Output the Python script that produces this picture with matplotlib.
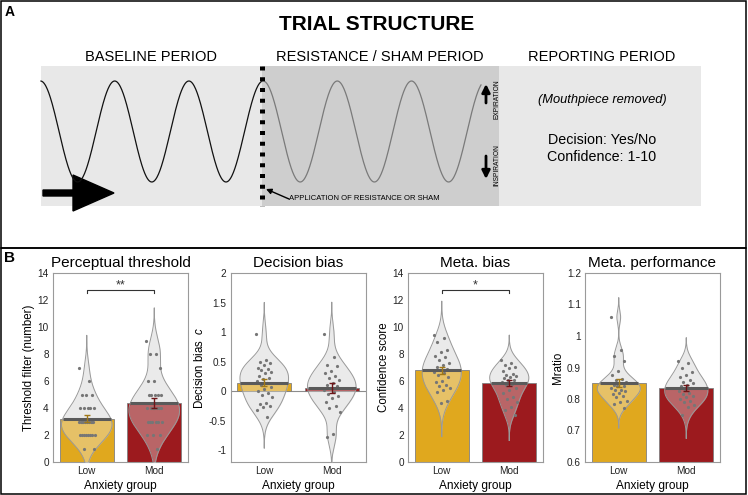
import numpy as np
import matplotlib.pyplot as plt
from matplotlib.patches import Rectangle, FancyArrow

plt.rcParams['font.family'] = ['Liberation Sans', 'DejaVu Sans']
plt.rcParams['mathtext.fontset'] = 'custom'
plt.rcParams['mathtext.it'] = 'Liberation Sans:italic'
plt.rcParams['mathtext.rm'] = 'Liberation Sans'

# ---- data ----
groups = ["Low", "Mod"]

threshold_low = [7, 6, 5, 5, 5, 4, 4, 4, 4, 4, 3, 3, 3, 3, 3, 3, 3, 3, 3, 3,
                 2, 2, 2, 2, 2, 2, 2, 2, 1, 1]
threshold_mod = [9, 8, 8, 7, 6, 6, 5, 5, 5, 5, 5, 4, 4, 4, 4, 4, 4, 4,
                 3, 3, 3, 3, 3, 3, 2, 2, 2, 1]

bias_low = [0.97, 0.53, 0.50, 0.47, 0.44, 0.40, 0.37, 0.35, 0.33, 0.30, 0.26,
            0.22, 0.20, 0.17, 0.13, 0.10, 0.07, 0.03, 0.0, -0.03, -0.07, -0.10,
            -0.20, -0.22, -0.25, -0.27, -0.32, -0.43]
bias_mod = [0.97, 0.58, 0.45, 0.42, 0.34, 0.30, 0.26, 0.22, 0.18, 0.14, 0.11,
            0.08, 0.05, 0.02, -0.01, -0.05, -0.09, -0.12, -0.18, -0.26, -0.29,
            -0.35, -0.72, -0.78]

conf_low = [9.4, 9.15, 8.9, 8.3, 8.15, 7.85, 7.75, 7.55, 7.35, 7.15, 7.05, 6.9,
            6.8, 6.7, 6.6, 6.45, 6.3, 6.0, 5.9, 5.7, 5.6, 5.5, 5.35, 5.2, 4.5, 4.4]
conf_mod = [7.55, 7.35, 7.2, 7.05, 6.95, 6.75, 6.55, 6.45, 6.4, 6.3, 6.2, 6.1,
            6.05, 5.95, 5.8, 5.7, 5.5, 5.3, 5.1, 4.85, 4.7, 4.45, 4.1, 3.85, 3.45]

mratio_low = [1.06, 0.955, 0.935, 0.92, 0.89, 0.875, 0.865, 0.86, 0.855, 0.85,
              0.845, 0.84, 0.84, 0.835, 0.83, 0.83, 0.825, 0.82, 0.815, 0.81,
              0.805, 0.795, 0.79, 0.785, 0.77]
mratio_mod = [0.92, 0.915, 0.9, 0.885, 0.875, 0.87, 0.86, 0.855, 0.85, 0.845,
              0.84, 0.835, 0.83, 0.825, 0.82, 0.815, 0.81, 0.805, 0.8, 0.795,
              0.79, 0.78, 0.775, 0.75]

bar_colors = ['#E0A81E', '#9C1A1E']
err_colors = ['#A07818', '#6E1518']


def kde_curve(vals, cut=3, npts=300):
    # gaussian kde, robust (MAD based) bandwidth
    vals = np.asarray(vals, float)
    sig = np.median(np.abs(vals - np.median(vals))) / 0.6745
    h = sig * (4 / (3 * len(vals))) ** (1 / 5)
    y = np.linspace(vals.min() - cut * h, vals.max() + cut * h, npts)
    dens = np.exp(-0.5 * ((y[:, None] - vals[None, :]) / h) ** 2).sum(axis=1)
    return y, dens / dens.max()


def draw_panel(ax, data, title, ylabel, ylim, yticks, yticklabels,
               vwidth=0.7, cut=3, star=None, zero_line=False):
    for pos, vals, color, ecolor in zip([1, 2], data, bar_colors, err_colors):
        vals = np.asarray(vals, float)
        mean = vals.mean()
        sem = vals.std(ddof=1) / np.sqrt(len(vals))
        yk, dens = kde_curve(vals, cut=cut)
        half = dens * vwidth / 2
        # violin behind the bar
        ax.fill_betweenx(yk, pos - half, pos + half, color='#e7e7e7', lw=0, zorder=1)
        ax.bar(pos, mean, width=0.8, color=color, edgecolor='#808080', lw=0.6, zorder=2)
        # translucent violin over the bar
        ax.fill_betweenx(yk, pos - half, pos + half, color='#f2f2f2', alpha=0.35, lw=0, zorder=3)
        ax.plot(np.r_[pos - half, (pos + half)[::-1]], np.r_[yk, yk[::-1]],
                color='#999999', lw=0.7, zorder=3.5)
        offs = ((np.arange(len(vals)) * 0.618034) % 1 - 0.5) * 0.24
        ax.plot(pos + offs, vals, 'o', ms=2.3, color='#767676', mec='none', zorder=4)
        hw = np.interp(mean, yk, half)
        ax.plot([pos - hw, pos + hw], [mean, mean], color='#5a5a5a', lw=2.2,
                solid_capstyle='butt', zorder=5)
        ax.errorbar(pos, mean, yerr=sem, color=ecolor, capsize=2, lw=1,
                    capthick=1, zorder=6)
    if zero_line:
        ax.axhline(0, color='#8c8c8c', lw=0.8, zorder=1.5)
    if star is not None:
        txt, yb, ytop = star
        ax.plot([1, 1, 2, 2], [yb, ytop, ytop, yb], color='#333333', lw=0.8, zorder=6)
        ax.text(1.5, ytop + 0.005 * (ylim[1] - ylim[0]), txt, ha='center',
                va='baseline', fontsize=9, color='#333333')
    ax.set_xlim(0.5, 2.5)
    ax.set_ylim(*ylim)
    ax.set_yticks(yticks)
    ax.set_yticklabels(yticklabels)
    ax.set_xticks([1, 2])
    ax.set_xticklabels(groups)
    ax.tick_params(length=0, labelsize=7.2, pad=3, colors='#222222')
    for s in ax.spines.values():
        s.set_color('#9a9a9a')
        s.set_linewidth(0.8)
    ax.set_title(title, fontsize=11, pad=4)
    ax.set_ylabel(ylabel, fontsize=8.3, labelpad=2)
    ax.set_xlabel('Anxiety group', fontsize=8.6, labelpad=3)


fig = plt.figure(figsize=(7.48, 4.95), dpi=100)

# ---- panel A: schematic, drawn in pixel coordinates ----
ax0 = fig.add_axes([0, 0, 1, 1], zorder=0)
ax0.set_xlim(0, 748)
ax0.set_ylim(495, 0)
ax0.axis('off')

ax0.add_patch(Rectangle((1, 1), 745, 246.5, fill=False, ec='black', lw=1.1))
ax0.add_patch(Rectangle((1, 247.5), 745, 246.5, fill=False, ec='black', lw=1.1))

ax0.add_patch(Rectangle((41, 66), 221, 140, fc='#e8e8e8', ec='none'))
ax0.add_patch(Rectangle((262, 66), 237, 140, fc='#cecece', ec='none'))
ax0.add_patch(Rectangle((499, 66), 202, 140, fc='#e8e8e8', ec='none'))

period = 74.2
xw = np.linspace(41, 481, 900)
yw = 131.5 - 50.5 * np.cos(2 * np.pi * (xw - 40.5) / period)
m = xw <= 262
ax0.plot(xw[m], yw[m], color='#111111', lw=0.9)
ax0.plot(xw[~m], yw[~m], color='#7a7a7a', lw=0.9)

ax0.plot([262, 262], [66, 206], color='black', lw=3.6, ls=(0, (0.8, 1.35)),
         dash_capstyle='butt')

ax0.add_patch(FancyArrow(43, 193, 71, 0, width=6, head_width=36, head_length=41,
                         length_includes_head=True, color='black'))
ax0.annotate('', xy=(266, 189), xytext=(289, 199),
             arrowprops=dict(arrowstyle='-|>', color='black', lw=1.0,
                             mutation_scale=8, shrinkA=0, shrinkB=0))
ax0.text(289, 199, 'APPLICATION OF RESISTANCE OR SHAM', fontsize=5.5,
         ha='left', va='center')

ax0.annotate('', xy=(486, 84), xytext=(486, 103),
             arrowprops=dict(arrowstyle='-|>', color='black', lw=2.0,
                             mutation_scale=12, shrinkA=0, shrinkB=0))
ax0.text(497, 99, 'EXPIRATION', rotation=90, fontsize=4.8, ha='center', va='center')
ax0.annotate('', xy=(486, 179), xytext=(486, 156),
             arrowprops=dict(arrowstyle='-|>', color='black', lw=2.0,
                             mutation_scale=12, shrinkA=0, shrinkB=0))
ax0.text(497, 165, 'INSPIRATION', rotation=90, fontsize=4.8, ha='center', va='center')

ax0.text(377, 24.5, 'TRIAL STRUCTURE', fontsize=15, fontweight='bold',
         ha='center', va='center')
for xc, lab in [(151, 'BASELINE PERIOD'), (380, 'RESISTANCE / SHAM PERIOD'),
                (602, 'REPORTING PERIOD')]:
    ax0.text(xc, 57, lab, fontsize=10.5, ha='center', va='center')

ax0.text(602, 100, '(Mouthpiece removed)', fontsize=9.3, style='italic',
         ha='center', va='center')
ax0.text(602, 140, 'Decision: Yes/No', fontsize=10.3, ha='center', va='center')
ax0.text(602, 157, 'Confidence: 1-10', fontsize=10.3, ha='center', va='center')

ax0.text(10, 12, 'A', fontsize=10, fontweight='bold', ha='center', va='center')
ax0.text(10, 258, 'B', fontsize=11, fontweight='bold', ha='center', va='center')

# ---- panel B: four bar + violin plots ----
W, H = 748, 495
lefts = [53, 230.5, 408, 585]
axw, top, bot = 135, 273, 462
axes = [fig.add_axes([l / W, 1 - bot / H, axw / W, (bot - top) / H], zorder=1)
        for l in lefts]

draw_panel(axes[0], [threshold_low, threshold_mod], 'Perceptual threshold',
           'Threshold filter (number)', (0, 14), range(0, 15, 2),
           [str(v) for v in range(0, 15, 2)], vwidth=0.75,
           star=('**', 12.5, 12.76))
draw_panel(axes[1], [bias_low, bias_mod], 'Decision bias', 'Decision bias  $c$',
           (-1.2, 2), [-1, -0.5, 0, 0.5, 1, 1.5, 2],
           ['-1', '-0.5', '0', '0.5', '1', '1.5', '2'], vwidth=0.72,
           zero_line=True)
draw_panel(axes[2], [conf_low, conf_mod], 'Meta. bias', 'Confidence score',
           (0, 14), range(0, 15, 2), [str(v) for v in range(0, 15, 2)],
           vwidth=0.58, star=('*', 12.5, 12.76))
draw_panel(axes[3], [mratio_low, mratio_mod], 'Meta. performance', 'Mratio',
           (0.6, 1.2), [0.6, 0.7, 0.8, 0.9, 1.0, 1.1, 1.2],
           ['0.6', '0.7', '0.8', '0.9', '1', '1.1', '1.2'], vwidth=0.64)

fig.savefig('out.png', dpi=100)
